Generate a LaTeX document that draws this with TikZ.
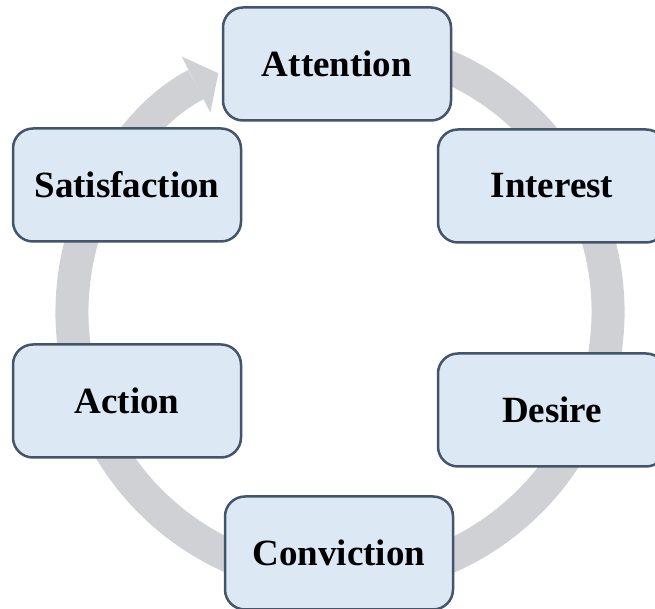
\documentclass[tikz,border=0pt]{standalone}
\usepackage{fontspec}
\setmainfont{Liberation Serif}
\usetikzlibrary{arrows.meta}
\definecolor{stagefill}{HTML}{DDE8F5}
\definecolor{stageline}{HTML}{44546A}
\definecolor{ringgray}{HTML}{D0D1D4}
\tikzset{
  stage/.style={draw=stageline,fill=stagefill,line width=2.5pt,rounded corners=20pt,
    minimum width=228pt,minimum height=113pt,
    font=\fontsize{37}{44}\selectfont\bfseries},
  ring/.style={draw=ringgray,line width=33pt,
    -{Triangle[length=25pt,width=63pt,line width=0pt]}}
}

\begin{document}
\begin{tikzpicture}[x=1pt,y=1pt]
  \useasboundingbox (0,0) rectangle (655,609);
  % grey cycle arrow running clockwise behind the stages
  \coordinate (hub) at (340,297);
  \draw[ring] (hub) ++(80:268) arc[start angle=80,end angle=-243,radius=268];
  \foreach \name/\x/\y/\txt in {
    att/337/545/Attention,
    int/552/423/Interest,
    des/552/199/Desire,
    con/339/56/Conviction,
    act/127/208/Action,
    sat/127/424/Satisfaction
  } {
    \node[stage] (\name) at (\x,\y) {\txt};
  }
\end{tikzpicture}
\end{document}
